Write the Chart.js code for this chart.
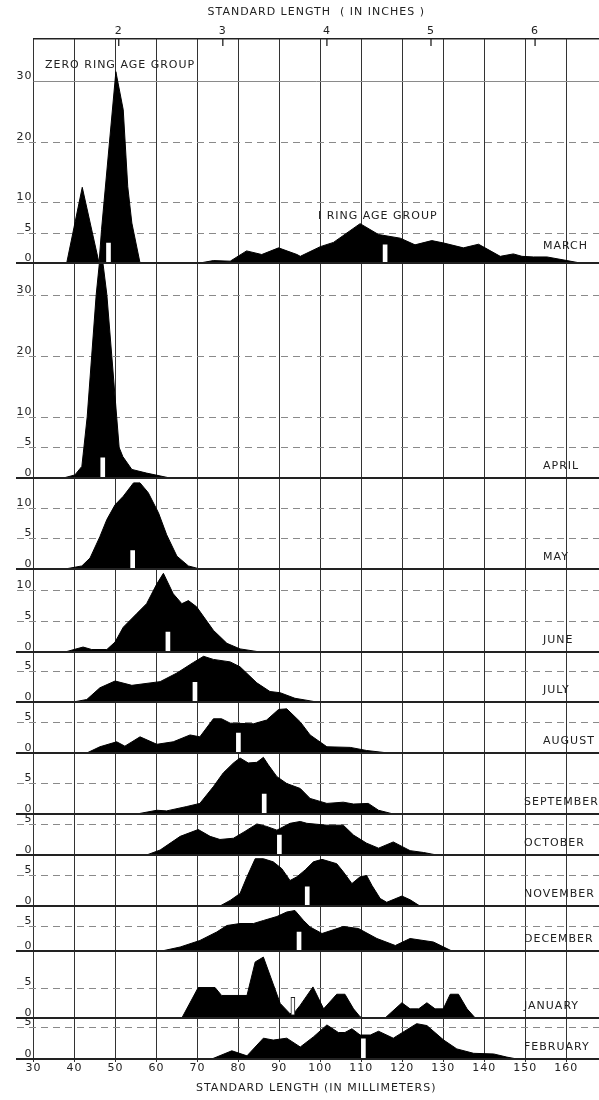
<!DOCTYPE html>
<html>
<head>
<meta charset="utf-8">
<script src="https://cdn.jsdelivr.net/npm/chart.js@4.4.1/dist/chart.umd.min.js"></script>
<style>
  html, body { margin: 0; padding: 0; background: #fff; }
  #wrap { position: relative; width: 599px; height: 1100px; overflow: hidden; }
  #wrap canvas { position: absolute; left: 0; }
</style>
</head>
<body>
<div id="wrap"></div>
<script>
// panels, top to bottom
const months = ["MARCH", "APRIL", "MAY", "JUNE", "JULY", "AUGUST", "SEPTEMBER",
                "OCTOBER", "NOVEMBER", "DECEMBER", "JANUARY", "FEBRUARY"];
const yMax = [37, 35.2, 14.9, 13.4, 8.1, 8.2, 9.8, 6.6, 8.2, 9, 11, 6.5];
const yTicks = [
  [0, 5, 10, 20, 30], [0, 5, 10, 20, 30], [0, 5, 10], [0, 5, 10],
  [0, 5], [0, 5], [0, 5], [0, 5], [0, 5], [0, 5], [0, 5], [0, 5]
];
const mmTicks = [30, 40, 50, 60, 70, 80, 90, 100, 110, 120, 130, 140, 150, 160];
const inchTicks = [2, 3, 4, 5, 6];

// frequency outlines: standard length (mm) / number of fish
const marchLen = [38.1, 41.9, 46.0, 46.2, 46.6, 50.1, 51.9, 53.0, 54.0, 56.0,
  70.6, 73.9, 78.0, 82.0, 85.7, 89.8, 94.3, 95.1, 100.0, 103.2, 109.7, 114.2, 119.5,
  123.1, 127.2, 130.1, 134.9, 138.6, 140.2, 143.9, 147.1, 149.2, 152.0, 155.3, 160.2, 163.4];
const marchN = [0, 12.5, 0, 0, 5.5, 31.6, 25.3, 12.6, 6.6, 0,
  0, 0.4, 0.3, 2.0, 1.4, 2.5, 1.4, 1.1, 2.7, 3.4, 6.5, 4.7, 4.1,
  3.0, 3.7, 3.3, 2.5, 3.1, 2.5, 1.1, 1.5, 1.1, 1.0, 1.0, 0.4, 0];
const aprilLen = [37.3, 40.1, 41.8, 42.3, 43.1, 44.2, 45.3, 46.2, 46.8, 47.9, 49.1, 50.3, 50.9, 51.8, 54.0, 57.6, 63.3];
const aprilN = [0, 0.5, 1.9, 5, 10, 20, 30, 36, 36, 30, 20, 10, 5, 3.5, 1.4, 0.8, 0];
const mayLen = [37.7, 41.8, 43.8, 46.2, 47.9, 49.9, 51.9, 54.4, 56.0, 58.0, 60.5, 62.5, 65.0, 67.8, 70.6];
const mayN = [0, 0.5, 1.8, 5.3, 8.1, 10.5, 11.9, 14.1, 14.1, 12.5, 9.2, 5.6, 2.1, 0.5, 0];
const juneLen = [37.7, 42.1, 44.2, 47.9, 49.9, 51.9, 55.2, 57.6, 60.1, 61.7, 64.1, 66.2, 67.8, 69.8, 73.9, 77.2, 80.4, 85.3];
const juneN = [0, 0.8, 0.4, 0.4, 1.6, 4.0, 6.2, 7.8, 11.0, 12.7, 9.4, 7.8, 8.3, 7.3, 3.5, 1.4, 0.5, 0];
const julyLen = [39.7, 43.0, 46.2, 49.9, 54.0, 60.9, 65.0, 69.0, 71.5, 73.9, 78.0, 80.4, 84.5, 87.7, 90.2, 93.8, 96.5, 99.1];
const julyN = [0, 0.4, 2.3, 3.4, 2.7, 3.3, 4.7, 6.4, 7.4, 6.9, 6.5, 5.7, 3.1, 1.7, 1.5, 0.6, 0.3, 0];
const augLen = [43.0, 46.2, 50.3, 52.3, 56.0, 60.1, 64.1, 68.2, 70.6, 73.9, 75.9, 78.0, 83.7, 86.9,
  89.8, 91.8, 95.1, 97.5, 101.6, 107.3, 111.3, 116.6];
const augN = [0, 1.0, 1.8, 1.1, 2.6, 1.4, 1.8, 2.9, 2.6, 5.5, 5.5, 4.8, 4.7, 5.3,
  7.0, 7.1, 5.0, 2.9, 1.0, 0.9, 0.4, 0];
const sepLen = [55.2, 60.1, 62.5, 67.4, 70.6, 73.9, 76.3, 78.8, 80.4, 82.4, 84.5, 86.1, 87.3, 89.4,
  91.8, 95.1, 97.5, 101.6, 105.6, 108.1, 111.7, 114.2, 117.8];
const sepN = [0, 0.6, 0.5, 1.2, 1.7, 4.4, 6.6, 8.2, 9.0, 8.2, 8.3, 9.1, 7.9, 6.0,
  4.9, 4.1, 2.5, 1.7, 1.9, 1.6, 1.7, 0.6, 0];
const octLen = [57.6, 60.9, 65.8, 70.2, 73.1, 75.5, 78.8, 81.6, 84.5, 86.9, 89.4, 92.6, 95.1, 96.7,
  101.6, 105.6, 108.1, 111.3, 114.2, 117.8, 121.9, 125.2, 128.4];
const octN = [0, 0.8, 3.0, 4.1, 3.0, 2.5, 2.7, 3.8, 5.0, 4.6, 4.0, 5.1, 5.4, 5.1,
  4.8, 4.8, 3.2, 1.9, 1.1, 2.1, 0.7, 0.4, 0];
const novLen = [75.5, 78.0, 80.4, 82.1, 84.1, 86.1, 88.5, 90.6, 92.6, 94.3, 96.3, 98.3, 100.4, 104.0,
  105.6, 107.7, 109.7, 111.3, 112.6, 114.6, 116.2, 119.9, 121.9, 124.3];
const novN = [0, 0.9, 2.0, 4.7, 7.6, 7.6, 7.1, 6.0, 4.1, 4.7, 5.8, 7.1, 7.5, 6.8,
  5.5, 3.6, 4.7, 4.9, 3.3, 1.2, 0.6, 1.6, 1.0, 0];
const decLen = [61.3, 65.8, 70.6, 74.7, 77.2, 80.4, 83.7, 86.1, 89.4, 91.8, 93.8, 95.9, 97.5, 100.4,
  105.6, 109.3, 113.8, 118.3, 121.9, 127.6, 132.1];
const decN = [0, 0.8, 2.1, 3.8, 5.1, 5.5, 5.5, 6.1, 6.9, 7.8, 8.1, 6.1, 4.8, 3.5,
  4.9, 4.5, 2.5, 1.1, 2.5, 1.8, 0];
const janLen = [66.2, 70.2, 74.3, 75.9, 82.1, 84.1, 86.1, 90.2, 92.6, 93.8, 95.1, 98.2, 100.8, 104.0,
  106.0, 108.1, 109.7, 110.5, 115.8, 119.9, 121.9, 124.0, 126.0, 128.0, 130.0, 131.7, 133.7, 135.8, 137.8];
const janN = [0, 5.0, 5.0, 3.7, 3.7, 9.2, 10.0, 2.4, 0.7, 1.0, 2.1, 5.1, 1.5, 3.9,
  3.9, 1.5, 0.2, 0, 0, 2.5, 1.5, 1.5, 2.5, 1.5, 1.5, 3.9, 3.9, 1.5, 0];
const febLen = [73.5, 78.4, 82.1, 86.1, 88.5, 91.8, 95.1, 98.3, 101.6, 104.4, 106.0, 107.7, 109.7, 112.2,
  114.2, 117.8, 123.5, 126.0, 130.1, 133.3, 137.4, 142.3, 145.5, 148.0];
const febN = [0, 1.3, 0.5, 3.3, 3.0, 3.3, 1.9, 3.5, 5.4, 4.2, 4.2, 4.8, 3.8, 3.8,
  4.4, 3.3, 5.6, 5.3, 3.0, 1.6, 0.9, 0.8, 0.3, 0];

const series = [
  [marchLen, marchN], [aprilLen, aprilN], [mayLen, mayN], [juneLen, juneN],
  [julyLen, julyN], [augLen, augN], [sepLen, sepN], [octLen, octN],
  [novLen, novN], [decLen, decN], [janLen, janN], [febLen, febN]
];

// mean length markers (white bars)
const meanLen = [[48.3, 115.8], [46.9], [54.2], [62.8], [69.4], [80.0], [86.3], [90.0], [96.8], [94.8], [93.3], [110.5]];
const meanLow = [[0, 0], [0], [0], [0], [0], [0], [0], [0], [0], [0], [0.45], [0]];
const meanTop = [[3.3, 3.0], [3.3], [3.0], [3.2], [3.2], [3.2], [3.2], [3.2], [3.1], [3.8], [3.4], [3.2]];

const groupNotes = [
  { text: "ZERO RING AGE GROUP", len: 32.8, n: 32.6 },
  { text: "I RING AGE GROUP", len: 99.4, n: 7.7 }
];

// layout (pixel edges of the panels)
const edges = [39, 263, 478, 569, 652, 702, 753, 814, 855, 906, 951, 1018, 1059];
const FONT = { family: "'DejaVu Sans', sans-serif", size: 11 };
const INK = "#222";

const wrap = document.getElementById("wrap");

months.forEach((month, i) => {
  const first = i === 0;
  const last = i === months.length - 1;
  const top = first ? 0 : edges[i];
  const bottom = last ? 1100 : edges[i + 1];

  const cv = document.createElement("canvas");
  cv.width = 599;
  cv.height = bottom - top;
  cv.style.top = top + "px";
  wrap.appendChild(cv);

  const [lens, counts] = series[i];
  const outline = lens.map((x, k) => ({ x: x, y: counts[k] }));
  const means = meanLen[i].map((x, k) => ({ x: x, y: [meanLow[i][k], meanTop[i][k]] }));

  const panelLines = {
    id: "panelLines" + i,
    beforeDraw(chart) {
      chart.ctx.letterSpacing = "1px";
    },
    beforeDatasetsDraw(chart) {
      const ctx = chart.ctx, y = chart.scales.y, area = chart.chartArea;
      ctx.save();
      ctx.strokeStyle = "#8a8a8a";
      ctx.lineWidth = 1;
      yTicks[i].forEach(v => {
        if (v === 0) return;
        const py = Math.round(y.getPixelForValue(v)) + 0.5;
        ctx.setLineDash(first && v === 30 ? [] : [7, 5]);
        ctx.beginPath();
        ctx.moveTo(first && v === 30 ? area.left : 17, py);
        ctx.lineTo(area.right, py);
        ctx.stroke();
      });
      ctx.restore();
    },
    afterDatasetsDraw(chart) {
      const ctx = chart.ctx, x = chart.scales.x, y = chart.scales.y, area = chart.chartArea;
      ctx.save();
      ctx.strokeStyle = INK;
      ctx.lineWidth = 2;
      ctx.beginPath();
      const base = y.getPixelForValue(0);
      ctx.moveTo(16, base);
      ctx.lineTo(area.right, base);
      if (!first) {
        ctx.moveTo(16, area.top);
        ctx.lineTo(area.right, area.top);
      }
      ctx.stroke();

      ctx.letterSpacing = "1px";
      ctx.fillStyle = INK;
      ctx.font = FONT.size + "px " + FONT.family;
      ctx.textBaseline = "middle";
      ctx.textAlign = "left";
      const lx = month.length >= 7 ? 524 : 543;
      ctx.fillText(month, lx, base - (first ? 17 : 12));

      if (first) {
        groupNotes.forEach(g => {
          ctx.fillText(g.text, x.getPixelForValue(g.len), y.getPixelForValue(g.n));
        });
        const x2 = chart.scales.x2;
        ctx.lineWidth = 1.3;
        ctx.beginPath();
        inchTicks.forEach(v => {
          const px = x2.getPixelForValue(v * 25.4);
          ctx.moveTo(px, area.top);
          ctx.lineTo(px, area.top + 7);
        });
        ctx.stroke();
      }
      ctx.restore();
    }
  };

  const scales = {
    x: {
      type: "linear",
      min: 30,
      max: 168,
      offset: false,
      afterBuildTicks: s => { s.ticks = mmTicks.map(v => ({ value: v })); },
      grid: { offset: false, color: "#333", lineWidth: 1, drawTicks: last, tickLength: 3, tickColor: "#333" },
      border: { display: false },
      ticks: { display: last, color: INK, font: FONT, padding: 0, maxRotation: 0, autoSkip: false },
      title: {
        display: last,
        text: "STANDARD LENGTH (IN MILLIMETERS)",
        color: INK,
        font: FONT,
        padding: { top: 0, bottom: 5 }
      },
      afterFit: s => { s.height = last ? 41 : 0; }
    },
    y: {
      min: 0,
      max: yMax[i],
      afterBuildTicks: s => { s.ticks = yTicks[i].map(v => ({ value: v })); },
      grid: { display: false, drawTicks: false },
      border: { display: false },
      ticks: { color: INK, font: FONT, padding: 1, labelOffset: -5, autoSkip: false },
      afterFit: s => { s.width = 33.5; s.paddingTop = 0; s.paddingBottom = 0; }
    }
  };

  if (first) {
    scales.x2 = {
      type: "linear",
      position: "top",
      min: 30,
      max: 168,
      offset: false,
      afterBuildTicks: s => { s.ticks = inchTicks.map(v => ({ value: v * 25.4 })); },
      grid: { display: false, drawTicks: false, offset: false },
      border: { display: true, color: INK, width: 1.5 },
      ticks: { color: INK, font: FONT, padding: 1, maxRotation: 0, callback: v => Math.round(v / 25.4) },
      title: {
        display: true,
        text: "STANDARD LENGTH  ( IN INCHES )",
        color: INK,
        font: FONT,
        padding: { top: 6, bottom: 0 }
      },
      afterFit: s => { s.height = 39; }
    };
  }

  new Chart(cv, {
    type: "line",
    data: {
      datasets: [
        {
          type: "bar",
          data: means,
          backgroundColor: "#fff",
          borderColor: INK,
          borderWidth: meanLow[i].some(v => v > 0) ? 1 : 0,
          borderSkipped: false,
          barThickness: 4,
          order: 0
        },
        {
          data: outline,
          fill: "origin",
          backgroundColor: "#000",
          borderColor: "#000",
          borderWidth: 1,
          pointRadius: 0,
          tension: 0,
          order: 1
        }
      ]
    },
    options: {
      responsive: false,
      animation: false,
      events: [],
      layout: { padding: 0 },
      plugins: { legend: { display: false }, tooltip: { enabled: false } },
      scales: scales
    },
    plugins: [panelLines]
  });
});
</script>
</body>
</html>
